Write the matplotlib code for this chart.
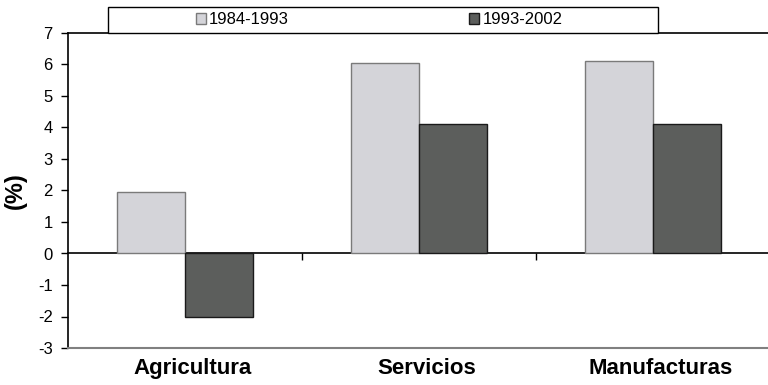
import matplotlib
matplotlib.use("Agg")
import matplotlib.pyplot as plt
from matplotlib.patches import Rectangle
from matplotlib.transforms import ScaledTranslation
import numpy as np

plt.rcParams['font.family'] = ['Liberation Sans', 'DejaVu Sans']
plt.rcParams['axes.unicode_minus'] = False

categories = ['Agricultura', 'Servicios', 'Manufacturas']
periods = ['1984-1993', '1993-2002']
vals_8493 = [1.95, 6.05, 6.1]
vals_9302 = [-2.0, 4.1, 4.1]

light = '#d4d4d9'
dark = '#5c5e5c'

fig = plt.figure(figsize=(7.68, 3.85), dpi=100)
ax = fig.add_axes([68/768, 37/385, 702/768, 315/385])

x = np.arange(len(categories))
w = 0.29
b1 = ax.bar(x - w/2, vals_8493, w, color=light, edgecolor='#7a7a7a', linewidth=1, label=periods[0])
b2 = ax.bar(x + w/2, vals_9302, w, color=dark, edgecolor='#1a1a1a', linewidth=1, label=periods[1])

ax.set_xlim(-0.5, 2.5)
ax.set_ylim(-3, 7)
ax.set_yticks(range(-3, 8))
ax.tick_params(axis='y', labelsize=12, direction='out', length=5, width=1, pad=6)
ax.set_xticks(x)
ax.set_xticklabels(categories, fontsize=16, fontweight='bold')
ax.tick_params(axis='x', length=0, pad=7)
# labels sit a little right of the category centre in the original
shift = ScaledTranslation(8/100, 0, fig.dpi_scale_trans)
for lbl in ax.get_xticklabels():
    lbl.set_transform(lbl.get_transform() + shift)
ax.set_ylabel('(%)', fontsize=17, fontweight='bold', labelpad=8)

ax.spines['right'].set_visible(False)
ax.spines['bottom'].set_color('#808080')
ax.spines['bottom'].set_linewidth(1.5)
ax.spines['left'].set_linewidth(1.2)
ax.spines['top'].set_linewidth(1.2)

# zero line with category separator ticks
sec = ax.secondary_xaxis((0 - (-3)) / 10)
sec.set_xticks([0.5, 1.5])
sec.set_xticklabels(['', ''])
sec.tick_params(direction='out', length=5, width=1)
sec.spines['bottom'].set_linewidth(1.2)

# legend box
fig.patches.append(Rectangle((108/768, (385-33)/385), 550/768, 26/385, transform=fig.transFigure,
                             facecolor='white', edgecolor='black', linewidth=1, zorder=5))
leg = fig.legend(handles=[b1, b2], labels=periods, loc='center', ncol=2,
                 bbox_to_anchor=(379/768, (385-20)/385), frameon=False, fontsize=12,
                 handlelength=0.6, handleheight=0.6, handletextpad=0.2,
                 columnspacing=10.8, borderpad=0, borderaxespad=0)
leg.set_zorder(6)

fig.savefig('out.png', dpi=100)
